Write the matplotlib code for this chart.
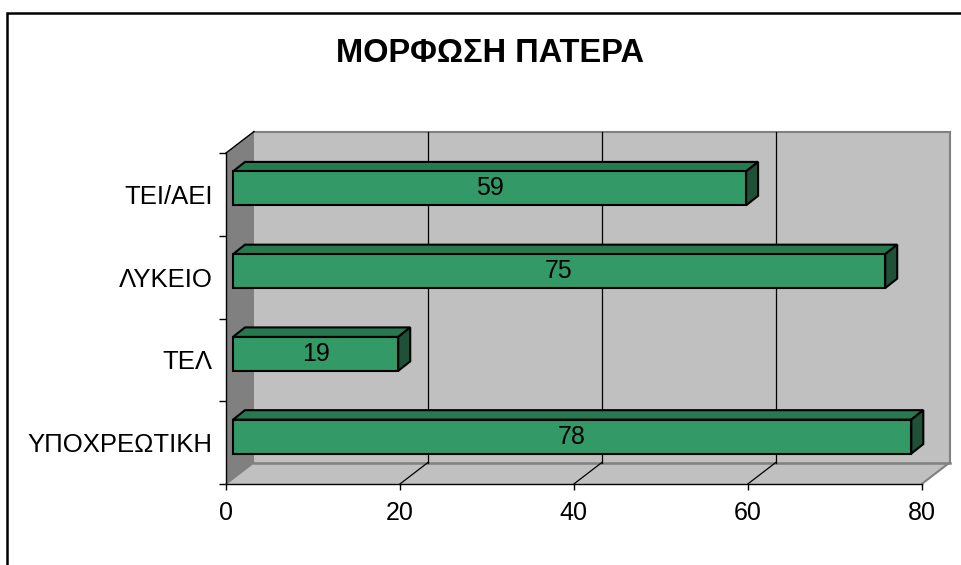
import matplotlib
matplotlib.use("Agg")
import matplotlib.pyplot as plt
from matplotlib.patches import Polygon, Rectangle
from matplotlib.transforms import offset_copy, IdentityTransform
import numpy as np

plt.rcParams['font.family'] = ['Liberation Sans', 'DejaVu Sans']

# Data
categories = ["ΥΠΟΧΡΕΩΤΙΚΗ", "ΤΕΛ", "ΛΥΚΕΙΟ", "ΤΕΙ/ΑΕΙ"]
values = [78, 19, 75, 59]
x_ticks = [0, 20, 40, 60, 80]
title = "ΜΟΡΦΩΣΗ ΠΑΤΕΡΑ"

# Colours
FRONT = "#339966"
TOP = "#277a50"
SIDE = "#1f5139"
WALL = "#c0c0c0"
SIDE_WALL = "#808080"
EDGE_GRAY = "#808080"

# Depth offsets in pixels (oblique projection)
WALL_D = (28.0, 21.5)
BAR_F = (7.0, 6.0)
BAR_B = (19.0, 15.5)
HALF = 0.205

W, H = 962, 565
fig = plt.figure(figsize=(W / 100, H / 100), dpi=100)
fig.patch.set_facecolor("white")

ax = fig.add_axes([226 / W, 81 / H, 695.7 / W, 331 / H])
ax.set_xlim(0, 80)
ax.set_ylim(-0.5, len(categories) - 0.5)
ax.patch.set_alpha(0)
for s in ("top", "right"):
    ax.spines[s].set_visible(False)
for s in ("left", "bottom"):
    ax.spines[s].set_color("black")
    ax.spines[s].set_linewidth(1.0)
    ax.spines[s].set_zorder(6)

ax.set_xticks(x_ticks)
ax.set_xticklabels([str(t) for t in x_ticks], fontsize=18)
ax.tick_params(axis="x", direction="out", length=4.5, width=1.0, pad=8)
ax.set_yticks(range(len(categories)))
ax.set_yticklabels(categories, fontsize=18.5)
ax.tick_params(axis="y", which="major", length=0, pad=9.5)
ax.set_yticks(np.arange(-0.5, len(categories), 1.0), minor=True)
ax.tick_params(axis="y", which="minor", direction="out", length=5, width=1.0)

ident = IdentityTransform()


def proj(x, y, off=(0.0, 0.0)):
    p = ax.transData.transform((x, y))
    return (p[0] + off[0], p[1] + off[1])


def poly(pts, fc, ec="none", lw=0.0, z=1):
    ax.add_patch(Polygon(pts, closed=True, facecolor=fc, edgecolor=ec, linewidth=lw,
                         transform=ident, clip_on=False, zorder=z, joinstyle="miter"))


def seg(p0, p1, color, lw, z=2):
    ax.add_line(plt.Line2D([p0[0], p1[0]], [p0[1], p1[1]], color=color, linewidth=lw,
                           transform=ident, clip_on=False, zorder=z))


xmin, xmax = 0, 80
ymin, ymax = -0.5, len(categories) - 0.5
Z0 = (0.0, 0.0)

# Back wall
poly([proj(xmin, ymin, WALL_D), proj(xmax, ymin, WALL_D),
      proj(xmax, ymax, WALL_D), proj(xmin, ymax, WALL_D)], WALL, z=1)
# Left side wall
poly([proj(xmin, ymin, Z0), proj(xmin, ymin, WALL_D),
      proj(xmin, ymax, WALL_D), proj(xmin, ymax, Z0)], SIDE_WALL, z=1)
# Floor
poly([proj(xmin, ymin, Z0), proj(xmax, ymin, Z0),
      proj(xmax, ymin, WALL_D), proj(xmin, ymin, WALL_D)], WALL, z=1)

# Wall and floor edges
seg(proj(xmin, ymax, WALL_D), proj(xmax, ymax, WALL_D), EDGE_GRAY, 1.5)
seg(proj(xmax, ymax, WALL_D), proj(xmax, ymin, WALL_D), EDGE_GRAY, 1.5)
seg(proj(xmin, ymin, WALL_D), proj(xmax, ymin, WALL_D), EDGE_GRAY, 1.8)
seg(proj(xmax, ymin, Z0), proj(xmax, ymin, WALL_D), EDGE_GRAY, 1.5)
seg(proj(xmin, ymin, Z0), proj(xmin, ymin, WALL_D), EDGE_GRAY, 1.2)
seg(proj(xmin, ymax, Z0), proj(xmin, ymax, WALL_D), "black", 1.0)

# Gridlines on the back wall and the floor
wall_tr = offset_copy(ax.transData, fig=fig, x=WALL_D[0], y=WALL_D[1], units="dots")
for t in x_ticks[1:-1]:
    ax.plot([t, t], [ymin, ymax], color="black", linewidth=0.9, transform=wall_tr,
            clip_on=False, zorder=2)
    seg(proj(t, ymin, Z0), proj(t, ymin, WALL_D), "black", 0.9)

# Bars
bar_tr = offset_copy(ax.transData, fig=fig, x=BAR_F[0], y=BAR_F[1], units="dots")
for i, v in enumerate(values):
    y0, y1 = i - HALF, i + HALF
    poly([proj(0, y1, BAR_F), proj(v, y1, BAR_F), proj(v, y1, BAR_B), proj(0, y1, BAR_B)],
         TOP, "black", 1.5, z=3)
    poly([proj(v, y0, BAR_F), proj(v, y0, BAR_B), proj(v, y1, BAR_B), proj(v, y1, BAR_F)],
         SIDE, "black", 1.5, z=3)
    poly([proj(0, y0, BAR_F), proj(v, y0, BAR_F), proj(v, y1, BAR_F), proj(0, y1, BAR_F)],
         FRONT, "black", 1.5, z=4)
    ax.text(v / 2, i, str(v), transform=bar_tr, ha="center", va="center",
            fontsize=18, color="black", zorder=5)

# Title
fig.text(490 / W, 1 - 54 / H, title, ha="center", va="center",
         fontsize=23.5, fontweight="bold")

# Chart-area border
fig.add_artist(Rectangle((7 / W, -0.05), 1.1, 1 - 12.5 / H + 0.05, transform=fig.transFigure,
                         facecolor="none", edgecolor="black", linewidth=1.8, zorder=10))

fig.savefig("out.png", dpi=100)
